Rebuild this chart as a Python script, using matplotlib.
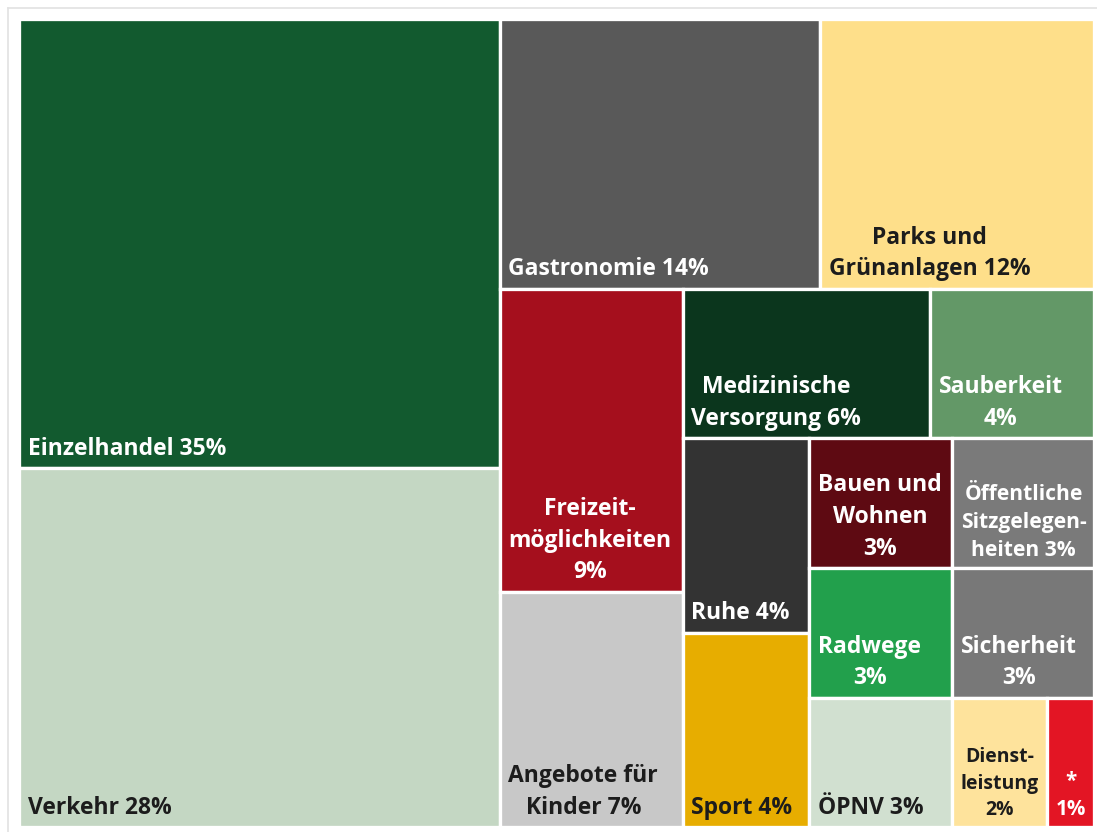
import matplotlib
matplotlib.use("Agg")
import matplotlib.pyplot as plt
from matplotlib.patches import Rectangle
from matplotlib.lines import Line2D

# ---------------- data ----------------
labels = [
    "Einzelhandel 35%", "Verkehr 28%", "Gastronomie 14%", "Parks und\nGrünanlagen 12%",
    "Freizeit-\nmöglichkeiten\n9%", "Angebote für\nKinder 7%", "Medizinische\nVersorgung 6%",
    "Sauberkeit\n4%", "Ruhe 4%", "Sport 4%", "Bauen und\nWohnen\n3%",
    "Öffentliche\nSitzgelegen-\nheiten 3%", "Radwege\n3%", "ÖPNV 3%", "Sicherheit\n3%",
    "Dienst-\nleistung\n2%", "*\n1%",
]
values = [35, 28, 14, 12, 9, 7, 6, 4, 4, 4, 3, 3, 3, 3, 3, 2, 1]
colors = [
    "#125a2f", "#c4d7c3", "#595959", "#fedf8a", "#a50f1d", "#c8c8c8", "#0b361d",
    "#639867", "#333333", "#e7ad00", "#5e0a12", "#7a7a7a", "#22a04c", "#d1e0d0",
    "#787878", "#fee39c", "#e31524",
]
DARK = "#1c1c1c"
WHITE = "#ffffff"
text_colors = [
    WHITE, DARK, WHITE, DARK, WHITE, DARK, WHITE, WHITE, WHITE, DARK, WHITE,
    WHITE, WHITE, DARK, WHITE, DARK, WHITE,
]


# ---------------- squarified treemap layout ----------------
def squarify(vals, x0, y0, x1, y1):
    rects = []
    n = len(vals)
    i0 = 0
    total = float(sum(vals))
    while i0 < n:
        dx, dy = x1 - x0, y1 - y0
        i1 = i0
        s = vals[i1]
        i1 += 1
        mn = mx = s
        alpha = max(dy / dx, dx / dy) / total
        beta = s * s * alpha
        minr = max(mx / beta, beta / mn)
        while i1 < n:
            v = vals[i1]
            s2 = s + v
            mn2, mx2 = min(mn, v), max(mx, v)
            beta = s2 * s2 * alpha
            r = max(mx2 / beta, beta / mn2)
            if r > minr:
                break
            s, mn, mx, minr = s2, mn2, mx2, r
            i1 += 1
        row = vals[i0:i1]
        if dx < dy:
            h = dy * s / total
            xx = x0
            for v in row:
                w = dx * v / s
                rects.append((xx, y0, w, h))
                xx += w
            y0 += h
        else:
            w = dx * s / total
            yy = y0
            for v in row:
                hh = dy * v / s
                rects.append((x0, yy, w, hh))
                yy += hh
            x0 += w
        total -= s
        i0 = i1
    return rects


W, H, DPI = 1097, 832, 100
fig = plt.figure(figsize=(W / DPI, H / DPI), dpi=DPI)
fig.patch.set_facecolor("white")
ax = fig.add_axes([0, 0, 1, 1])
ax.set_xlim(0, W)
ax.set_ylim(H, 0)
ax.axis("off")

# light frame (cropped at right and bottom)
ax.add_line(Line2D([8, 8], [8, H + 5], color="#e2e2e2", lw=1.2, clip_on=False))
ax.add_line(Line2D([8, W + 5], [8, 8], color="#e2e2e2", lw=1.2, clip_on=False))

BOX = (19.1, 19.1, 1094.3, 827.3)
GAP = 3.3  # white separator, px
rects = squarify(values, *BOX)

for (x, y, w, h), c in zip(rects, colors):
    ax.add_patch(Rectangle((x, y), w, h, facecolor=c, edgecolor="white",
                           linewidth=GAP * 72 / DPI))

renderer = fig.canvas.get_renderer()
BASE = 16.45
PADX = 7.3
PADB = 5.6
for (x, y, w, h), lab, tc in zip(rects, labels, text_colors):
    t = ax.text(x + GAP / 2 + PADX, y + h - GAP / 2 - PADB, lab,
                ha="left", va="bottom", multialignment="center",
                fontsize=BASE, fontweight="bold", family=["Open Sans", "DejaVu Sans"],
                color=tc, linespacing=1.43)
    tw = t.get_window_extent(renderer).width
    avail = w - GAP - 2 * PADX + 1
    if tw > avail:
        t.set_fontsize(BASE * avail / tw)

fig.savefig("out.png", dpi=DPI, facecolor="white")
